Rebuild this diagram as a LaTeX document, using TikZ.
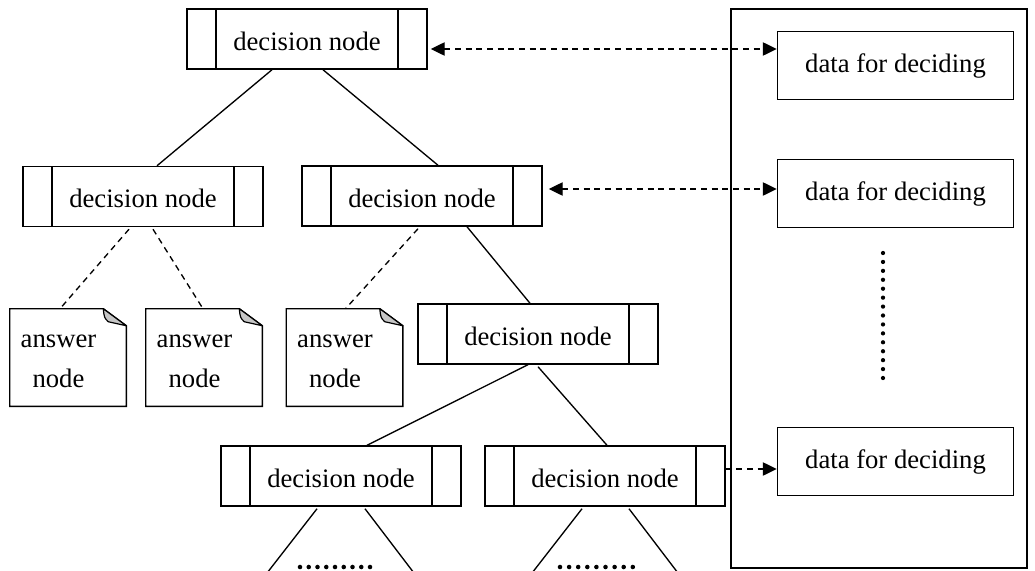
\documentclass[tikz,border=0pt]{standalone}
\usepackage{fontspec}
\setmainfont{Liberation Serif}
\usetikzlibrary{calc,arrows.meta}
\tikzset{
  txt/.style={font=\fontsize{20}{30}\selectfont},
  dnode/.style={txt, draw, line width=1.1pt, minimum width=180pt, minimum height=45pt, inner sep=0pt, text height=17pt, text depth=0pt,
    path picture={
      \draw[line width=1.1pt] ($(path picture bounding box.north west)+(29,0)$) -- ($(path picture bounding box.south west)+(29,0)$);
      \draw[line width=1.1pt] ($(path picture bounding box.north east)+(-29,0)$) -- ($(path picture bounding box.south east)+(-29,0)$);
    }},
  databox/.style={txt, draw, line width=1.1pt, minimum width=177pt, minimum height=51pt, inner sep=0pt},
  noteframe/.style={minimum width=87pt, minimum height=72.75pt, inner sep=0pt},
  notetext/.style={txt, align=center, inner sep=0pt},
  panelbox/.style={draw, line width=1.1pt, minimum width=222pt, minimum height=419.25pt, inner sep=0pt},
  link/.style={line width=1pt},
  dlink/.style={line width=1pt, dash pattern=on 4.5pt off 3.5pt},
  arr/.style={dlink, -{Triangle[length=10.5pt,width=10pt]}},
  darr/.style={dlink, {Triangle[length=10.5pt,width=10pt]}-{Triangle[length=10.5pt,width=10pt]}},
  dotfill/.style={fill=black}
}
\newcommand\notefold[1]{%
  \draw[line width=1.1pt, line join=miter] (#1.north west) -- ($(#1.north east)+(-23,0)$) -- ($(#1.north east)+(0,17)$) -- (#1.south east) -- (#1.south west) -- cycle;
  \filldraw[fill=gray!45, line width=0.9pt, line join=round] ($(#1.north east)+(-23,0)$) .. controls ($(#1.north east)+(-22,9)$) .. ($(#1.north east)+(-18,13)$) -- ($(#1.north east)+(0,17)$) -- cycle;
}
\begin{document}
\begin{tikzpicture}[x=0.75pt, y=-0.75pt]
\useasboundingbox (0,0) rectangle (1035,571);

% right panel
\node[panelbox] (panel) at (879,288.5) {};

% decision nodes
\node[dnode] (A) at (307,39) {decision node};
\node[dnode] (B) at (143,196.5) {decision node};
\node[dnode] (C) at (422,196) {decision node};
\node[dnode] (D) at (538,334) {decision node};
\node[dnode] (E) at (341,476) {decision node};
\node[dnode] (F) at (605,476) {decision node};

% data boxes
\node[databox] (d1) at (895.5,65.5) {data for deciding};
\node[databox] (d2) at (895.5,193.5) {data for deciding};
\node[databox] (d3) at (895.5,461.5) {data for deciding};

% answer notes
\node[noteframe] (a1) at (68,357.5) {};
\node[noteframe] (a2) at (204,357.5) {};
\node[noteframe] (a3) at (344.5,357.5) {};
\notefold{a1}
\notefold{a2}
\notefold{a3}
\node[notetext] (a1t) at ($(a1)+(-9.5,3.5)$) {answer\\node};
\node[notetext] (a2t) at ($(a2)+(-9.5,3.5)$) {answer\\node};
\node[notetext] (a3t) at ($(a3)+(-9.5,3.5)$) {answer\\node};

% tree connectors
\draw[link] ($(A.south)+(-35,0)$) -- ($(B.north)+(14,0)$);
\draw[link] ($(A.south)+(16,0)$) -- ($(C.north)+(16,0)$);
\draw[dlink] ($(B.south)+(-14,2)$) -- ($(a1.north)+(-8,0)$);
\draw[dlink] ($(B.south)+(10,2)$) -- ($(a2.north)+(-1,0)$);
\draw[dlink] ($(C.south)+(-4,2)$) -- ($(a3.north)+(1,0)$);
\draw[link] ($(C.south)+(45,0)$) -- ($(D.north)+(-8,0)$);
\draw[link] ($(D.south)+(-10,0)$) -- ($(E.north)+(26,0)$);
\draw[link] ($(D.south)+(0,2)$) -- ($(F.north)+(2,0)$);

\coordinate (eL) at ($(E.south)+(-73,65)$);
\coordinate (eR) at ($(E.south)+(72,65)$);
\coordinate (fL) at ($(F.south)+(-72,65)$);
\coordinate (fR) at ($(F.south)+(72,65)$);
\draw[link] ($(E.south)+(-24,2)$) -- (eL);
\draw[link] ($(E.south)+(24,2)$) -- (eR);
\draw[link] ($(F.south)+(-23,2)$) -- (fL);
\draw[link] ($(F.south)+(24,2)$) -- (fR);

% dots
\foreach \i in {0,...,8} \fill[dotfill] (300+\i*8.75,567) circle[radius=1.7pt];
\foreach \i in {0,...,8} \fill[dotfill] (560+\i*9.1,567) circle[radius=1.7pt];
\foreach \i in {0,...,14} \fill[dotfill] (883,253+\i*8.93) circle[radius=1.6pt];

% data links
\coordinate (p1) at ($(A.east)+(3,10)$);
\coordinate (p2) at ($(C.east)+(6,-7)$);
\coordinate (p3) at ($(F.east)+(0,-7)$);
\draw[darr] (p1) -- (p1 -| d1.west);
\draw[darr] (p2) -- (p2 -| d2.west);
\draw[arr] (p3) -- (p3 -| d3.west);
\end{tikzpicture}
\end{document}
